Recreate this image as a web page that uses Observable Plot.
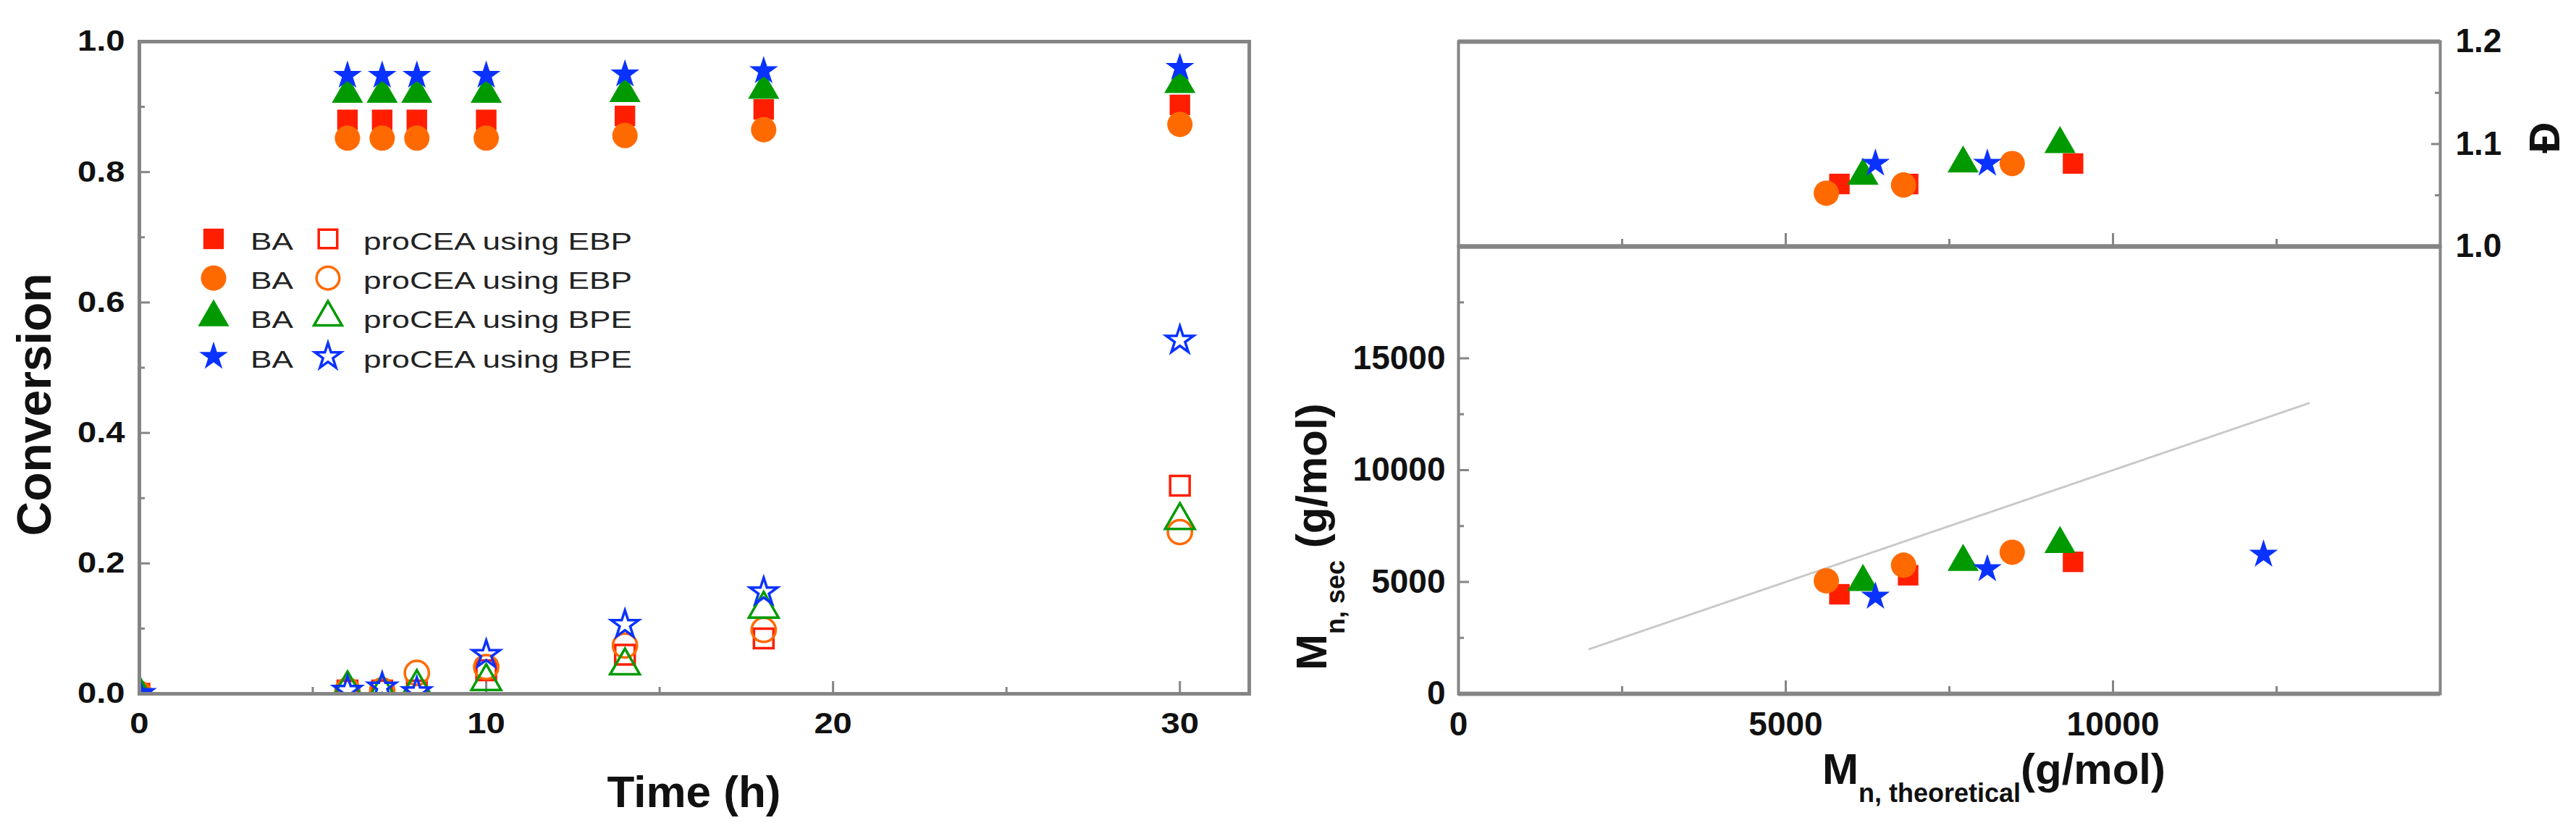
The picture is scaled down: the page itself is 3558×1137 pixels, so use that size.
<!DOCTYPE html>
<html><head><meta charset="utf-8">
<script src="https://cdn.jsdelivr.net/npm/d3@7"></script>
<script src="https://cdn.jsdelivr.net/npm/@observablehq/plot@0.6"></script>
<style>
html,body{margin:0;padding:0;background:#fff;}
#wrap{position:relative;width:3558px;height:1137px;overflow:hidden;font-family:"Liberation Sans",Arial,sans-serif;}
#wrap svg{position:absolute;left:0;top:0;}
</style></head><body><div id="wrap"></div>
<script>
// ---------------- DATA ----------------
// Left panel: conversion vs time
const timeH = [0, 6, 7, 8, 10, 14, 18, 30];
const baSquare   = [0, 0.880, 0.880, 0.880, 0.880, 0.886, 0.896, 0.903];
const baCircle   = [0, 0.852, 0.852, 0.852, 0.852, 0.856, 0.865, 0.873];
const baTriangle = [0, 0.920, 0.920, 0.920, 0.920, 0.921, 0.926, 0.935];
const baStar     = [0, 0.948, 0.948, 0.948, 0.948, 0.950, 0.955, 0.960];
const proSquare   = [0, 0.005, 0.005, 0.005, 0.036, 0.060, 0.085, 0.319];
const proCircle   = [0, 0.005, 0.005, 0.032, 0.041, 0.074, 0.098, 0.248];
const proTriangle = [0, 0.008, 0.003, 0.010, 0.019, 0.043, 0.130, 0.266];
const proStar     = [0, 0.005, 0.010, 0.003, 0.060, 0.106, 0.156, 0.542];
const legendBA = ["BA", "BA", "BA", "BA"];
const legendPro = ["proCEA using EBP", "proCEA using EBP", "proCEA using BPE", "proCEA using BPE"];
const convTicks = [0, 0.2, 0.4, 0.6, 0.8, 1.0];
const convMinorTicks = [0.1, 0.3, 0.5, 0.7, 0.9];
const timeTicks = [0, 10, 20, 30];
const timeMinorTicks = [5, 15, 25];

// Right panels: Mn,sec and dispersity vs Mn,theoretical
const mnTheoSquare   = [5820, 6870, 9390];
const mnSecSquare    = [4450, 5300, 5900];
const dispSquare     = [1.061, 1.061, 1.081];
const mnTheoCircle   = [5620, 6800, 8460];
const mnSecCircle    = [5050, 5750, 6330];
const dispCircle     = [1.052, 1.060, 1.081];
const mnTheoTriangle = [6180, 7710, 9190];
const mnSecTriangle  = [5000, 5900, 6700];
const dispTriangle   = [1.069, 1.081, 1.100];
const mnTheoStar     = [6370, 8080, 12300];
const mnSecStar      = [4350, 5580, 6230];
const dispStar       = [1.081, 1.081, null];
const idealLineX = [2000, 13000];
const idealLineY = [2000, 13000];
const mnTicks = [0, 5000, 10000, 15000];
const mnTickLabels = [0, 5000, 10000];
const mnMinorTicks = [2500, 7500, 12500];
const mnSecMinorTicks = [2500, 7500, 12500, 17500];
const dispTicks = [1.0, 1.1, 1.2];
const dispMinorTicks = [1.05, 1.15];

// ---------------- STYLE ----------------
const RED = "#ff1e00", ORANGE = "#ff6a00", GREEN = "#009a00", BLUE = "#0a32ff";
const AX = "#858585";
const FONT = "'Liberation Sans', Arial, sans-serif";
const series = [
  {symbol: "square",   color: RED,    r: 16,   ba: baSquare,   pro: proSquare,   mt: mnTheoSquare,   ms: mnSecSquare,   dp: dispSquare},
  {symbol: "circle",   color: ORANGE, r: 17.5, ba: baCircle,   pro: proCircle,   mt: mnTheoCircle,   ms: mnSecCircle,   dp: dispCircle},
  {symbol: "triangle", color: GREEN,  r: 16,   ba: baTriangle, pro: proTriangle, mt: mnTheoTriangle, ms: mnSecTriangle, dp: dispTriangle},
  {symbol: "star",     color: BLUE,   r: 12.5, ba: baStar,     pro: proStar,     mt: mnTheoStar,     ms: mnSecStar,     dp: dispStar}
];

const wrap = document.getElementById("wrap");
const W = 3558, H = 1137;

function stretch(svg, selector, f) {
  svg.querySelectorAll(selector).forEach(t => {
    const L = t.getComputedTextLength();
    if (L > 0) {
      t.setAttribute("textLength", (L * f).toFixed(1));
      t.setAttribute("lengthAdjust", "spacingAndGlyphs");
    }
  });
}

// ---------------- LEFT PLOT ----------------
const L = {w: 1800, ml: 192, mr: 75, mt: 57, mb: 179};
const innerWL = L.w - L.ml - L.mr, innerHL = H - L.mt - L.mb;
const leftMarks = [];
for (const s of series) {
  const filled = timeH.map((t, i) => ({t, v: s.ba[i]}));
  const open = timeH.map((t, i) => ({t, v: s.pro[i]}));
  leftMarks.push(Plot.dot(filled, {x: "t", y: "v", symbol: s.symbol, r: s.r, fill: s.color, stroke: "none", clip: true}));
  leftMarks.push(Plot.dot(open, {x: "t", y: "v", symbol: s.symbol, r: s.r * 0.95, fill: "none", stroke: s.color, strokeWidth: 3.5, clip: true}));
}
const leftPlot = Plot.plot({
  width: L.w, height: H,
  marginLeft: L.ml, marginRight: L.mr, marginTop: L.mt, marginBottom: L.mb,
  x: {domain: [0, 32]},
  y: {domain: [0, 1]},
  style: {background: "transparent", color: "#111", fontFamily: FONT},
  marks: [
    Plot.tickY(convMinorTicks, {y: d => d, insetRight: innerWL - 8, stroke: AX, strokeWidth: 3}),
    Plot.tickY(convTicks, {y: d => d, insetRight: innerWL - 15, stroke: AX, strokeWidth: 3}),
    Plot.tickX(timeMinorTicks, {x: d => d, insetTop: innerHL - 9, stroke: AX, strokeWidth: 3}),
    Plot.tickX(timeTicks, {x: d => d, insetTop: innerHL - 17, stroke: AX, strokeWidth: 3}),
    Plot.axisY({ticks: convTicks, tickSize: 0, tickPadding: 20, tickFormat: d3.format(".1f"), fontSize: 40, fontWeight: "bold", label: null}),
    Plot.axisX({ticks: timeTicks, tickSize: 0, tickPadding: 26, tickFormat: d3.format("d"), fontSize: 40, fontWeight: "bold", label: null}),
    ...leftMarks,
    Plot.frame({stroke: AX, strokeWidth: 5})
  ]
});
wrap.appendChild(leftPlot);
stretch(leftPlot, 'g[aria-label$="tick label"] text', 1.18);

// ---------------- RIGHT UPPER (dispersity) ----------------
const R = {ml: 2014, mr: W - 3370};
const innerWR = W - R.ml - R.mr;
const U = {mt: 57, mb: H - 340};
const innerHU = H - U.mt - U.mb;
const upperMarks = [];
for (const s of series) {
  const pts = s.mt.map((x, i) => ({x, y: s.dp[i]})).filter(d => d.y != null);
  upperMarks.push(Plot.dot(pts, {x: "x", y: "y", symbol: s.symbol, r: s.r, fill: s.color, stroke: "none"}));
}
const upperPlot = Plot.plot({
  width: W, height: H,
  marginLeft: R.ml, marginRight: R.mr, marginTop: U.mt, marginBottom: U.mb,
  x: {domain: [0, 15000], axis: null},
  y: {domain: [1.0, 1.2]},
  style: {background: "transparent", color: "#111", fontFamily: FONT},
  marks: [
    Plot.tickY(dispMinorTicks, {y: d => d, insetLeft: innerWR - 7, stroke: AX, strokeWidth: 3}),
    Plot.tickY(dispTicks, {y: d => d, insetLeft: innerWR - 12, stroke: AX, strokeWidth: 3}),
    Plot.tickX(mnMinorTicks, {x: d => d, insetTop: innerHU - 10, stroke: AX, strokeWidth: 3}),
    Plot.tickX(mnTicks, {x: d => d, insetTop: innerHU - 18, stroke: AX, strokeWidth: 3}),
    Plot.axisY({anchor: "right", ticks: dispTicks, tickSize: 0, tickPadding: 21, tickFormat: d3.format(".1f"), fontSize: 46, fontWeight: "bold", label: null}),
    ...upperMarks,
    Plot.frame({stroke: AX, strokeWidth: 4}),
    Plot.ruleY([1.0, 1.2], {stroke: AX, strokeWidth: 6})
  ]
});
wrap.appendChild(upperPlot);

// ---------------- RIGHT LOWER (Mn,sec) ----------------
const B = {mt: 340, mb: 179};
const innerHB = H - B.mt - B.mb;
const lowerMarks = [];
for (const s of series) {
  const pts = s.mt.map((x, i) => ({x, y: s.ms[i]}));
  lowerMarks.push(Plot.dot(pts, {x: "x", y: "y", symbol: s.symbol, r: s.r, fill: s.color, stroke: "none"}));
}
const lowerPlot = Plot.plot({
  width: W, height: H,
  marginLeft: R.ml, marginRight: R.mr, marginTop: B.mt, marginBottom: B.mb,
  x: {domain: [0, 15000]},
  y: {domain: [0, 20000]},
  style: {background: "transparent", color: "#111", fontFamily: FONT},
  marks: [
    Plot.tickY(mnSecMinorTicks, {y: d => d, insetRight: innerWR - 8, stroke: AX, strokeWidth: 3}),
    Plot.tickY(mnTicks, {y: d => d, insetRight: innerWR - 15, stroke: AX, strokeWidth: 3}),
    Plot.tickX(mnMinorTicks, {x: d => d, insetTop: innerHB - 10, stroke: AX, strokeWidth: 3}),
    Plot.tickX(mnTicks, {x: d => d, insetTop: innerHB - 18, stroke: AX, strokeWidth: 3}),
    Plot.axisY({ticks: mnTicks, tickSize: 0, tickPadding: 18, tickFormat: d3.format("d"), fontSize: 46, fontWeight: "bold", label: null}),
    Plot.axisX({ticks: mnTickLabels, tickSize: 0, tickPadding: 25, tickFormat: d3.format("d"), fontSize: 46, fontWeight: "bold", label: null}),
    Plot.line(idealLineX.map((x, i) => ({x, y: idealLineY[i]})), {x: "x", y: "y", stroke: "#c8c8c8", strokeWidth: 3, strokeDasharray: "2,2"}),
    ...lowerMarks,
    Plot.frame({stroke: AX, strokeWidth: 4}),
    Plot.ruleY([0, 20000], {stroke: AX, strokeWidth: 6})
  ]
});
wrap.appendChild(lowerPlot);

// ---------------- OVERLAY: titles, legend ----------------
const ov = d3.select(wrap).append("svg").attr("width", W).attr("height", H)
  .style("font-family", FONT).style("pointer-events", "none");

// Left axis titles
ov.append("text").attr("transform", "translate(70,559) rotate(-90)").attr("text-anchor", "middle")
  .attr("font-size", 66).attr("font-weight", "bold").attr("fill", "#111").text("Conversion");
ov.append("text").attr("x", (L.ml + L.w - L.mr) / 2).attr("y", 1115).attr("text-anchor", "middle")
  .attr("font-size", 62).attr("font-weight", "bold").attr("fill", "#111").text("Time (h)");

// Right axis titles
const bx = ov.append("text").attr("x", 2517).attr("y", 1083).attr("font-weight", "bold").attr("fill", "#111");
bx.append("tspan").attr("font-size", 60).text("M");
bx.append("tspan").attr("font-size", 36).attr("dy", 25).text("n, theoretical");
bx.append("tspan").attr("font-size", 60).attr("dy", -25).text("(g/mol)");

const ly = ov.append("text").attr("transform", "translate(1832,926) rotate(-90)").attr("font-weight", "bold").attr("fill", "#111");
ly.append("tspan").attr("font-size", 60).text("M");
ly.append("tspan").attr("font-size", 36).attr("dy", 25).text("n, sec");
ly.append("tspan").attr("font-size", 60).attr("dy", -25).text(" (g/mol)");

ov.append("text").attr("transform", "translate(3535,190) rotate(-90)").attr("text-anchor", "middle")
  .attr("font-size", 60).attr("font-weight", "bold").attr("fill", "#111").text("Đ");

// Legend
const symMap = {square: d3.symbolSquare, circle: d3.symbolCircle, triangle: d3.symbolTriangle, star: d3.symbolStar};
const legendTexts = [];
series.forEach((s, i) => {
  const cy = 330 + i * 54.2;
  const path = d3.symbol(symMap[s.symbol], Math.PI * s.r * s.r)();
  ov.append("path").attr("d", path).attr("transform", `translate(295,${cy})`).attr("fill", s.color);
  ov.append("path").attr("d", d3.symbol(symMap[s.symbol], Math.PI * (s.r * 0.9) ** 2)())
    .attr("transform", `translate(453,${cy})`).attr("fill", "none").attr("stroke", s.color).attr("stroke-width", 3.5);
  legendTexts.push(ov.append("text").attr("x", 346).attr("y", cy + 15).attr("font-size", 34).attr("fill", "#222").text(legendBA[i]).node());
  legendTexts.push(ov.append("text").attr("x", 502).attr("y", cy + 15).attr("font-size", 34).attr("fill", "#222").text(legendPro[i]).node());
});
legendTexts.forEach(t => {
  const len = t.getComputedTextLength();
  t.setAttribute("textLength", (len * 1.3).toFixed(1));
  t.setAttribute("lengthAdjust", "spacingAndGlyphs");
});
</script></body></html>
